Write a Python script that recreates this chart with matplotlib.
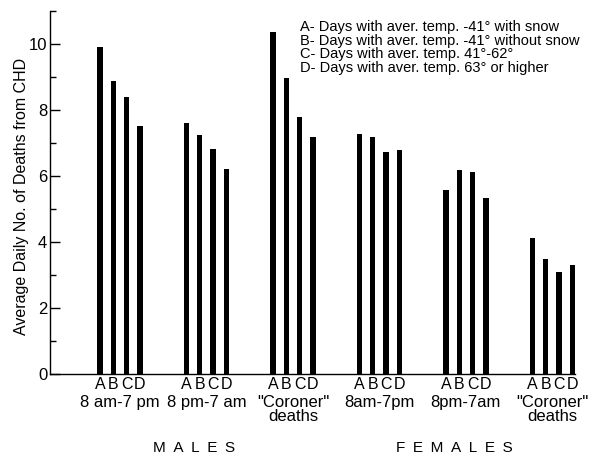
import matplotlib
matplotlib.use('Agg')
import matplotlib.pyplot as plt
from matplotlib.ticker import MultipleLocator

plt.rcParams['font.family'] = ['Liberation Sans', 'DejaVu Sans']

# Дані
group_labels = ['8 am-7 pm', '8 pm-7 am', '"Coroner"\ndeaths',
                '8am-7pm', '8pm-7am', '"Coroner"\ndeaths']
bar_letters = ['A', 'B', 'C', 'D']
vals_a = [9.9, 7.6, 10.37, 7.26, 5.58, 4.13]
vals_b = [8.89, 7.23, 8.98, 7.17, 6.17, 3.48]
vals_c = [8.38, 6.82, 7.8, 6.72, 6.11, 3.1]
vals_d = [7.52, 6.21, 7.19, 6.78, 5.34, 3.29]
sex_labels = ['M\u2002A\u2002L\u2002E\u2002S', 'F\u2002E\u2002M\u2002A\u2002L\u2002E\u2002S']
legend_lines = [
    'A- Days with aver. temp. -41° with snow',
    'B- Days with aver. temp. -41° without snow',
    'C- Days with aver. temp. 41°-62°',
    'D- Days with aver. temp. 63° or higher',
]

fig = plt.figure(figsize=(5.9, 4.55), dpi=100)
ax = fig.add_axes([50 / 590, 81 / 455, 525 / 590, 363 / 455])

group_step = 6.5
group_x = [i * group_step for i in range(len(group_labels))]
series = [vals_a, vals_b, vals_c, vals_d]

tick_pos = []
tick_lab = []
for j, vals in enumerate(series):
    xs = [g + j for g in group_x]
    ax.bar(xs, vals, width=0.4, color='black')
    tick_pos += xs
    tick_lab += [bar_letters[j]] * len(xs)

ax.set_xlim(-3.76, 35.7)
ax.set_ylim(0, 11)
ax.set_xticks(tick_pos)
ax.set_xticklabels(tick_lab, fontsize=11.5)
ax.tick_params(axis='x', length=0, pad=2)

ax.yaxis.set_major_locator(MultipleLocator(2))
ax.yaxis.set_minor_locator(MultipleLocator(1))
ax.set_yticks([0, 2, 4, 6, 8, 10])
ax.tick_params(axis='y', which='major', direction='in', length=7, width=1,
               labelsize=12, pad=2)
ax.tick_params(axis='y', which='minor', direction='in', length=4, width=1)

for side in ['top', 'right']:
    ax.spines[side].set_visible(False)
for side in ['left', 'bottom']:
    ax.spines[side].set_linewidth(1)

ax.set_ylabel('Average Daily No. of Deaths from CHD', fontsize=11.5)
ax.yaxis.set_label_coords(-0.04, 0.49)

tr = ax.get_xaxis_transform()
for g, lab in zip(group_x, group_labels):
    ax.annotate(lab, xy=(g + 1.5, 0), xycoords=tr, xytext=(0, -21),
                textcoords='offset pixels', ha='center', va='top',
                fontsize=12, linespacing=0.95)

for g, lab in zip([group_x[1], group_x[4]], sex_labels):
    ax.annotate(lab, xy=(g + 0.6, 0), xycoords=tr, xytext=(0, -67),
                textcoords='offset pixels', ha='center', va='top',
                fontsize=11)

for i, line in enumerate(legend_lines):
    fig.text(300 / 590, 1 - (20 + i * 13.7) / 455, line, ha='left', va='top',
             fontsize=10.5)

fig.savefig('out.png', dpi=100)
